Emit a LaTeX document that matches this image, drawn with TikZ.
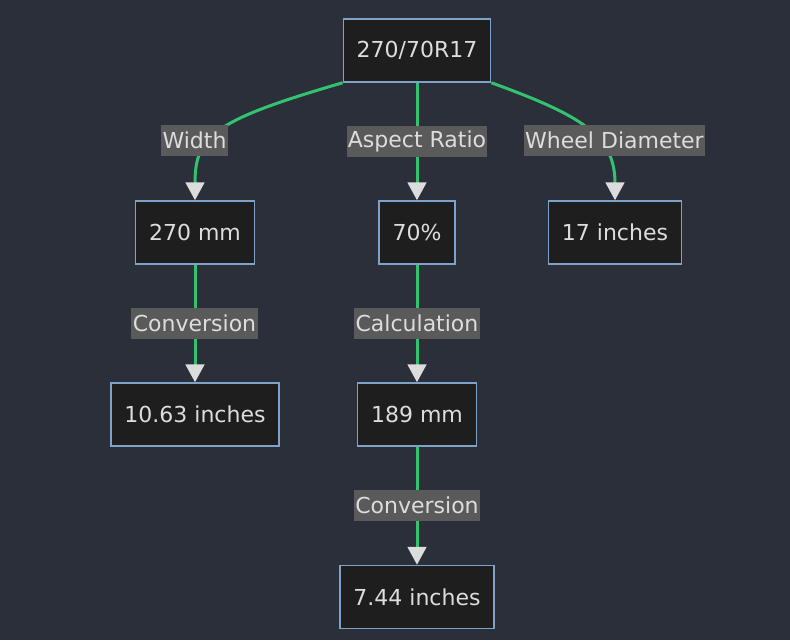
\documentclass[tikz,border=0pt]{standalone}
\usepackage{fontspec}
\setmainfont{DejaVu Sans}
\usetikzlibrary{arrows.meta}
\definecolor{bgdark}{HTML}{2B2F3A}
\definecolor{boxfill}{HTML}{1E1E1E}
\definecolor{boxline}{HTML}{7FA3C8}
\definecolor{linkgreen}{HTML}{33C270}
\definecolor{tipgray}{HTML}{DCDCDC}
\definecolor{lblfill}{HTML}{5A5A5A}
\definecolor{txt}{HTML}{DDDDDD}
\begin{document}
\begin{tikzpicture}[x=0.75pt,y=-0.75pt,font=\fontsize{16.5}{19}\selectfont]
			\fill[bgdark] (0,0) rectangle (790,640);
			\useasboundingbox (0,0) rectangle (790,640);
			\tikzset{link/.style={draw=linkgreen,line width=2.25pt,-{Triangle[length=13.5pt,width=14pt,color=tipgray]}}}
			
			\begin{scope}[every node/.style={rectangle,draw=boxline,line width=1.1pt,fill=boxfill,text=txt,minimum height=47.25pt,inner xsep=10pt}]
				\node (tyre) at (417,50.5) {270/70R17};
				\node (wmm) at (195,232.5) {270 mm};
				\node (ratio) at (417,232.5) {70\%};
				\node (rim) at (615,232.5) {17 inches};
				\node (win) at (195,414.5) {10.63 inches};
				\node (hmm) at (417,414.5) {189 mm};
				\node (hin) at (417,597) {7.44 inches};
			\end{scope}
			
			\begin{scope}
				\path[link] (tyre.south west) .. controls (215,120) and (195,135) .. (wmm.north);
				\path[link] (tyre) -- (ratio);
				\path[link] (tyre.south east) .. controls (580,115) and (615,135) .. (rim.north);
				\path[link] (wmm) -- (win);
				\path[link] (ratio) -- (hmm);
				\path[link] (hmm) -- (hin);
			\end{scope}
			
			\begin{scope}[every node/.style={fill=lblfill,text=txt,inner xsep=1pt,inner ysep=0pt,minimum height=23.25pt}]
				\node (lwidth) at (194.5,140.5) {Width};
				\node (lratio) at (417,141) {Aspect Ratio};
				\node (lrim) at (614.5,140.5) {Wheel Diameter};
				\node (lconv) at (194.5,323.5) {Conversion};
				\node (lcalc) at (417,323.5) {Calculation};
				\node (lconvb) at (417,505) {Conversion};
			\end{scope}
		\end{tikzpicture}
\end{document}
